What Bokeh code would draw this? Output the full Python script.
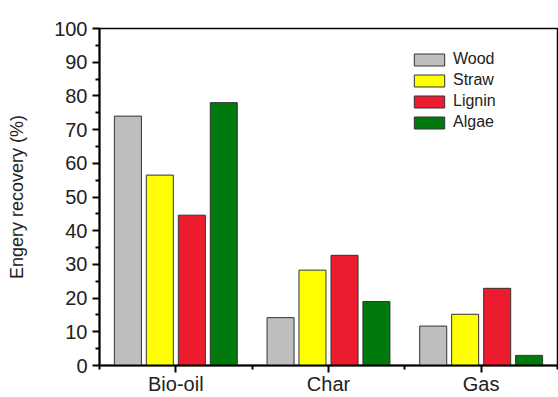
from bokeh.plotting import figure
from bokeh.models import ColumnDataSource, FixedTicker, Legend, LegendItem
from bokeh.transform import dodge
from bokeh.embed import file_html
from bokeh.resources import INLINE

categories = ["Bio-oil", "Char", "Gas"]
wood = [74.0, 14.2, 11.7]
straw = [56.5, 28.3, 15.2]
lignin = [44.6, 32.7, 22.9]
algae = [78.0, 19.0, 3.0]
series_names = ["Wood", "Straw", "Lignin", "Algae"]
y_ticks = [0, 10, 20, 30, 40, 50, 60, 70, 80, 90, 100]

colors = ["#BEBEBE", "#FFFF00", "#EC1C2E", "#007A0F"]
offsets = [-0.314, -0.105, 0.105, 0.314]

pos = list(range(1, len(categories) + 1))
src = ColumnDataSource(dict(x=pos, Wood=wood, Straw=straw, Lignin=lignin, Algae=algae))

FONT = "Liberation Sans"
TXT = "#222222"
p = figure(width=558, height=397, x_range=(0.5, 3.5), y_range=(0, 100),
           output_backend="svg", toolbar_location=None,
           min_border_left=99, min_border_top=28, min_border_right=1, min_border_bottom=31)
p.background_fill_color = "white"
p.border_fill_color = "white"
p.outline_line_color = "black"
p.outline_line_width = 1.5
p.grid.visible = False

items = []
for name, c, off in zip(series_names, colors, offsets):
    r = p.vbar(x=dodge("x", off, range=p.x_range), top=name, width=0.177, bottom=0,
               source=src, fill_color=c, line_color="#333333", line_width=1)
    items.append(LegendItem(label=name, renderers=[r]))

legend = Legend(items=items, location=(311, 234), padding=0, margin=0,
                border_line_color=None, background_fill_alpha=0,
                glyph_width=38, glyph_height=15, label_height=15, spacing=3, label_standoff=5,
                label_text_font=FONT, label_text_font_size="16px", label_text_color=TXT)
p.add_layout(legend)

# X axis
p.xaxis.ticker = FixedTicker(ticks=pos, minor_ticks=[0.5, 1.5, 2.5, 3.5])
p.xaxis.major_label_overrides = {i: c for i, c in zip(pos, categories)}
p.xaxis.major_label_text_font = FONT
p.xaxis.major_label_text_font_size = "20px"
p.xaxis.major_label_text_color = TXT
p.xaxis.major_label_standoff = 0
p.xaxis.axis_line_width = 2
p.xaxis.major_tick_out = 7
p.xaxis.major_tick_in = 0
p.xaxis.minor_tick_out = 4
p.xaxis.minor_tick_in = 0
p.xaxis.major_tick_line_width = 2
p.xaxis.minor_tick_line_width = 2

# Y axis
p.yaxis.ticker = FixedTicker(ticks=y_ticks, minor_ticks=[v + 5 for v in y_ticks[:-1]])
p.yaxis.axis_label = "Engery recovery (%)"
p.yaxis.axis_label_text_font = FONT
p.yaxis.axis_label_text_font_style = "normal"
p.yaxis.axis_label_text_font_size = "18px"
p.yaxis.axis_label_text_color = TXT
p.yaxis.axis_label_standoff = 24
p.yaxis.major_label_text_font = FONT
p.yaxis.major_label_text_font_size = "20px"
p.yaxis.major_label_text_color = TXT
p.yaxis.major_label_standoff = 5
p.yaxis.axis_line_width = 2
p.yaxis.major_tick_out = 7
p.yaxis.major_tick_in = 0
p.yaxis.minor_tick_out = 4
p.yaxis.minor_tick_in = 0
p.yaxis.major_tick_line_width = 2
p.yaxis.minor_tick_line_width = 2

open("out.html", "w").write(file_html(p, INLINE))
